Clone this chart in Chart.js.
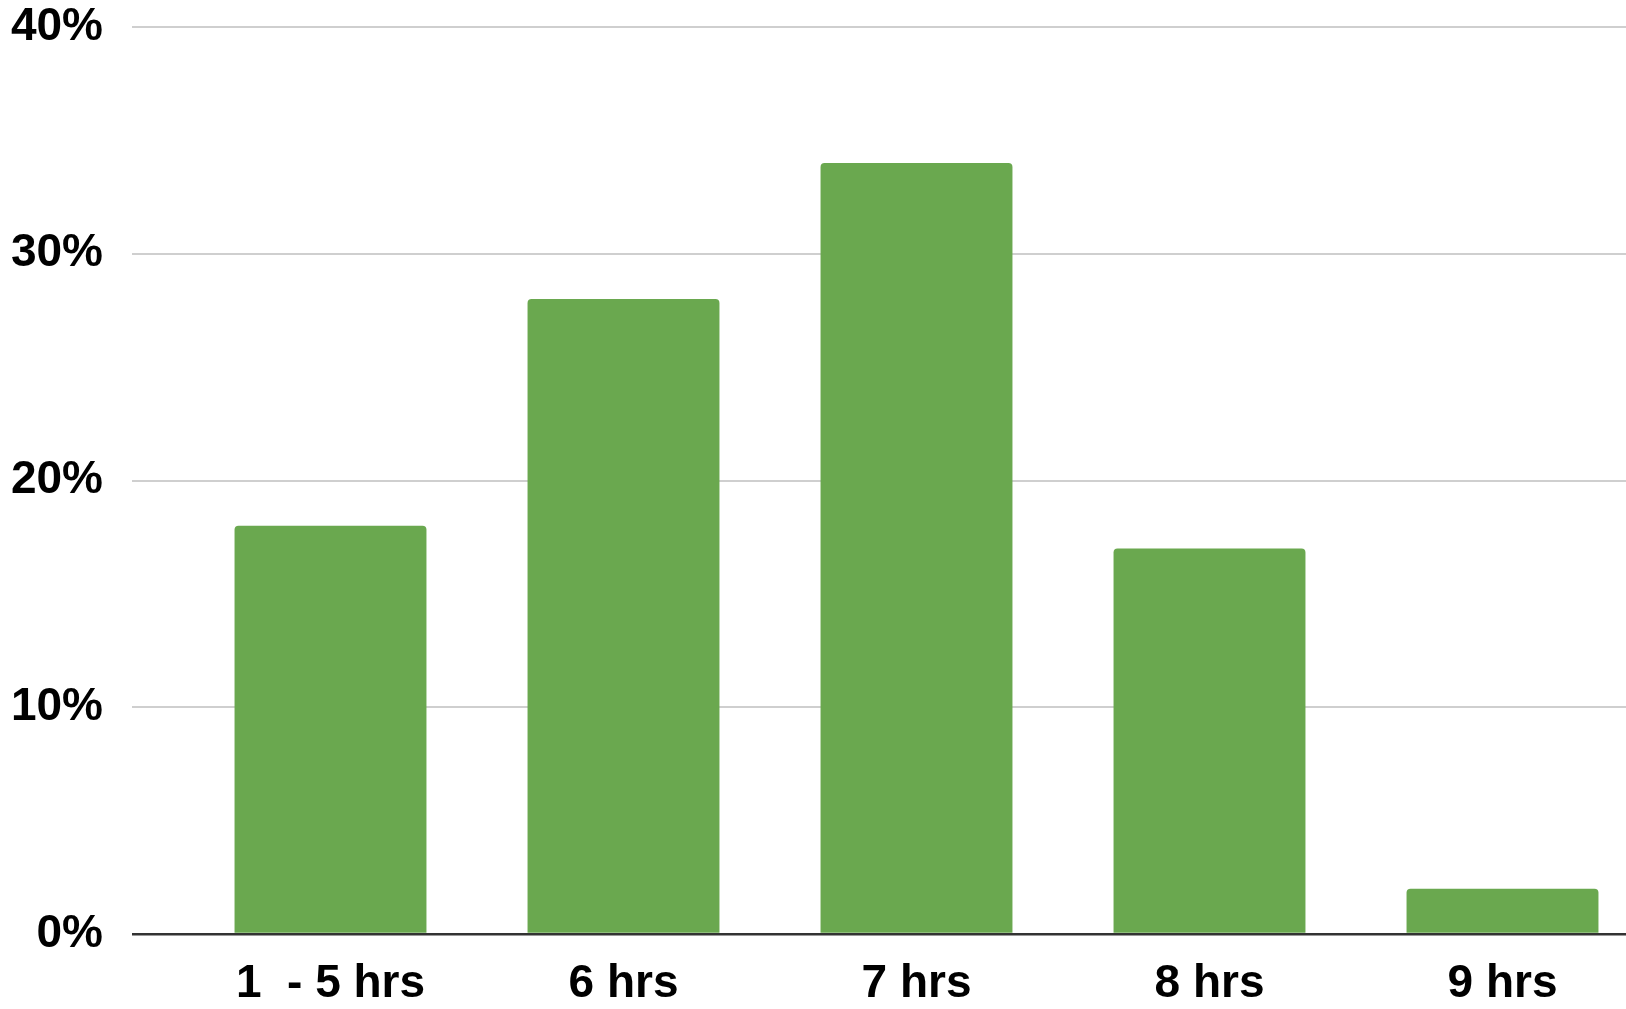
<!DOCTYPE html>
<html>
<head>
<meta charset="utf-8">
<script src="https://cdn.jsdelivr.net/npm/chart.js@4"></script>
<style>
  html, body { margin: 0; padding: 0; background: #fff; overflow: hidden; }
  #wrap { position: relative; width: 1650px; height: 1009px; }
</style>
</head>
<body>
<div id="wrap"><canvas id="chart"></canvas></div>
<script>
  // hours of sleep, share of respondents (%)
  var categories = ['1  - 5 hrs', '6 hrs', '7 hrs', '8 hrs', '9 hrs'];
  var shares = [18, 28, 34, 17, 2];
  var yTicks = [0, 10, 20, 30, 40];

  var font = { family: "'Liberation Sans', Arial, sans-serif", size: 46, weight: 'bold' };

  new Chart(document.getElementById('chart'), {
    type: 'bar',
    data: {
      labels: categories,
      datasets: [{
        data: shares,
        backgroundColor: '#6aa84f',
        borderRadius: 4,
        borderSkipped: 'start',
        barPercentage: 0.655,
        categoryPercentage: 1,
      }],
    },
    options: {
      responsive: true,
      maintainAspectRatio: false,
      animation: false,
      layout: { padding: { top: 0, right: 1, left: 0, bottom: 0 } },
      plugins: {
        legend: { display: false },
        tooltip: { enabled: false },
      },
      scales: {
        x: {
          grid: { display: false, drawTicks: false },
          border: { display: false },
          ticks: { color: '#000', font: font, padding: 23, maxRotation: 0, autoSkip: false },
          afterFit: function (scale) { scale.height = 75; },
        },
        y: {
          min: 0,
          max: 40,
          afterBuildTicks: function (scale) {
            scale.ticks = yTicks.map(function (v) { return { value: v }; });
          },
          border: { display: false },
          grid: {
            color: function (c) { return c.tick && c.tick.value === 0 ? '#333333' : '#cfcfcf'; },
            lineWidth: function (c) { return c.tick && c.tick.value === 0 ? 2.5 : 2; },
            drawTicks: true,
            tickLength: 52,
          },
          ticks: {
            color: '#000',
            font: font,
            padding: 29,
            callback: function (v) { return v + '%'; },
          },
          afterFit: function (scale) {
            scale.width = 184;
            scale.paddingTop = 27;
            scale.paddingBottom = 0;
          },
        },
      },
    },
  });
</script>
</body>
</html>
